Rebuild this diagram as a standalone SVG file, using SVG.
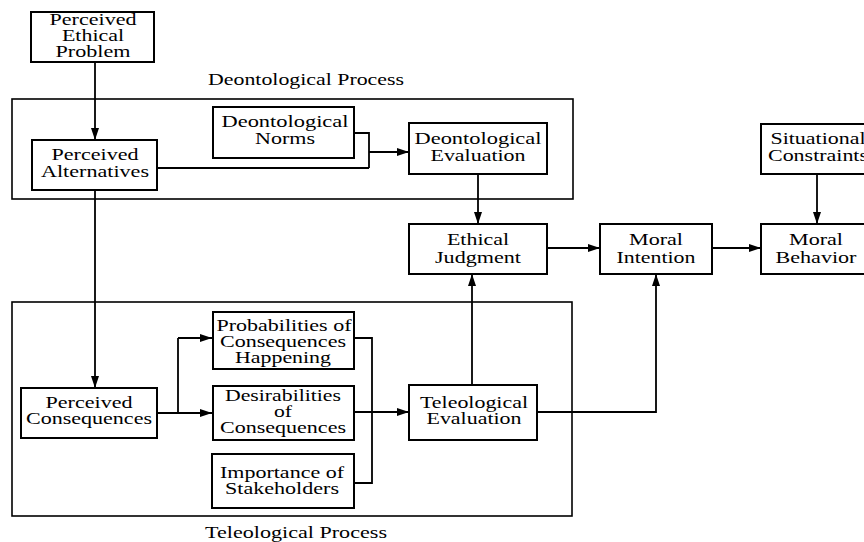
<svg xmlns="http://www.w3.org/2000/svg" width="864" height="542" viewBox="0 0 864 542">
<defs>
<marker id="ah" viewBox="0 0 12 8" refX="12" refY="4" markerWidth="12" markerHeight="8" markerUnits="userSpaceOnUse" orient="auto">
<path d="M0,0 L12,4 L0,8 Z" fill="#000"/>
</marker>
<style>
.b{fill:#fff;stroke:#000;stroke-width:2}
.g{fill:none;stroke:#000;stroke-width:1.6}
.t{font-family:"Liberation Serif","Times New Roman",serif;font-size:17px;fill:#000;text-anchor:middle}
.c{fill:none;stroke:#000;stroke-width:1.8}
.a{fill:none;stroke:#000;stroke-width:1.8;marker-end:url(#ah)}
</style>
</defs>
<rect width="864" height="542" fill="#fff"/>
<g id="deontological-process">
<rect class="g" x="12" y="99" width="561" height="100"/>
<text class="t" x="306" y="85" textLength="196" lengthAdjust="spacingAndGlyphs">Deontological Process</text>
</g>
<g id="teleological-process">
<rect class="g" x="12" y="302" width="560" height="214"/>
<text class="t" x="296" y="538" textLength="182" lengthAdjust="spacingAndGlyphs">Teleological Process</text>
</g>
<g id="connectors">
<line class="a" x1="95" y1="62" x2="95" y2="140"/>
<polyline class="c" points="157,168 369,168"/>
<polyline class="c" points="354,133 369,133 369,168"/>
<line class="a" x1="369" y1="152" x2="409" y2="152"/>
<line class="a" x1="478" y1="174" x2="478" y2="224"/>
<line class="a" x1="547" y1="248" x2="600" y2="248"/>
<line class="a" x1="712" y1="248" x2="761" y2="248"/>
<line class="a" x1="817" y1="174" x2="817" y2="224"/>
<line class="a" x1="95" y1="190" x2="95" y2="388"/>
<polyline class="c" points="157,413 178,413 178,338"/>
<line class="a" x1="178" y1="338" x2="212" y2="338"/>
<line class="a" x1="178" y1="413" x2="212" y2="413"/>
<polyline class="c" points="354,338 372,338 372,483 354,483"/>
<line class="a" x1="354" y1="412" x2="409" y2="412"/>
<line class="a" x1="472" y1="385" x2="472" y2="274"/>
<polyline class="a" points="537,412 656,412 656,274"/>
</g>
<g id="perceived-ethical-problem">
<rect class="b" x="31" y="12" width="123" height="50"/>
<text class="t" x="93" y="25" textLength="87" lengthAdjust="spacingAndGlyphs">Perceived</text>
<text class="t" x="93" y="41" textLength="62" lengthAdjust="spacingAndGlyphs">Ethical</text>
<text class="t" x="93" y="57" textLength="75" lengthAdjust="spacingAndGlyphs">Problem</text>
</g>
<g id="perceived-alternatives">
<rect class="b" x="32" y="140" width="125" height="50"/>
<text class="t" x="95" y="160" textLength="87" lengthAdjust="spacingAndGlyphs">Perceived</text>
<text class="t" x="95" y="177" textLength="108" lengthAdjust="spacingAndGlyphs">Alternatives</text>
</g>
<g id="deontological-norms">
<rect class="b" x="213" y="107" width="141" height="51"/>
<text class="t" x="285" y="127" textLength="127" lengthAdjust="spacingAndGlyphs">Deontological</text>
<text class="t" x="285" y="144" textLength="60" lengthAdjust="spacingAndGlyphs">Norms</text>
</g>
<g id="deontological-evaluation">
<rect class="b" x="409" y="123" width="138" height="51"/>
<text class="t" x="478" y="144" textLength="127" lengthAdjust="spacingAndGlyphs">Deontological</text>
<text class="t" x="478" y="161" textLength="95" lengthAdjust="spacingAndGlyphs">Evaluation</text>
</g>
<g id="ethical-judgment">
<rect class="b" x="409" y="224" width="138" height="50"/>
<text class="t" x="478" y="245" textLength="62" lengthAdjust="spacingAndGlyphs">Ethical</text>
<text class="t" x="478" y="263" textLength="86" lengthAdjust="spacingAndGlyphs">Judgment</text>
</g>
<g id="moral-intention">
<rect class="b" x="600" y="224" width="112" height="50"/>
<text class="t" x="656" y="245" textLength="54" lengthAdjust="spacingAndGlyphs">Moral</text>
<text class="t" x="656" y="263" textLength="79" lengthAdjust="spacingAndGlyphs">Intention</text>
</g>
<g id="situational-constraints">
<rect class="b" x="761" y="124" width="112" height="50"/>
<text class="t" x="818" y="144" textLength="95" lengthAdjust="spacingAndGlyphs">Situational</text>
<text class="t" x="818" y="161" textLength="100" lengthAdjust="spacingAndGlyphs">Constraints</text>
</g>
<g id="moral-behavior">
<rect class="b" x="761" y="224" width="112" height="50"/>
<text class="t" x="816" y="245" textLength="54" lengthAdjust="spacingAndGlyphs">Moral</text>
<text class="t" x="816" y="263" textLength="81" lengthAdjust="spacingAndGlyphs">Behavior</text>
</g>
<g id="perceived-consequences">
<rect class="b" x="21" y="388" width="136" height="50"/>
<text class="t" x="89" y="408" textLength="87" lengthAdjust="spacingAndGlyphs">Perceived</text>
<text class="t" x="89" y="424" textLength="126" lengthAdjust="spacingAndGlyphs">Consequences</text>
</g>
<g id="probabilities">
<rect class="b" x="213" y="312" width="141" height="57"/>
<text class="t" x="284" y="331" textLength="135" lengthAdjust="spacingAndGlyphs">Probabilities of</text>
<text class="t" x="283" y="347" textLength="126" lengthAdjust="spacingAndGlyphs">Consequences</text>
<text class="t" x="283" y="363" textLength="96" lengthAdjust="spacingAndGlyphs">Happening</text>
</g>
<g id="desirabilities">
<rect class="b" x="213" y="386" width="141" height="54"/>
<text class="t" x="283" y="401" textLength="116" lengthAdjust="spacingAndGlyphs">Desirabilities</text>
<text class="t" x="283" y="417" textLength="18" lengthAdjust="spacingAndGlyphs">of</text>
<text class="t" x="283" y="433" textLength="126" lengthAdjust="spacingAndGlyphs">Consequences</text>
</g>
<g id="importance">
<rect class="b" x="212" y="454" width="142" height="54"/>
<text class="t" x="282" y="478" textLength="124" lengthAdjust="spacingAndGlyphs">Importance of</text>
<text class="t" x="282" y="494" textLength="114" lengthAdjust="spacingAndGlyphs">Stakeholders</text>
</g>
<g id="teleological-evaluation">
<rect class="b" x="409" y="385" width="128" height="55"/>
<text class="t" x="474" y="408" textLength="108" lengthAdjust="spacingAndGlyphs">Teleological</text>
<text class="t" x="474" y="424" textLength="95" lengthAdjust="spacingAndGlyphs">Evaluation</text>
</g>
</svg>
